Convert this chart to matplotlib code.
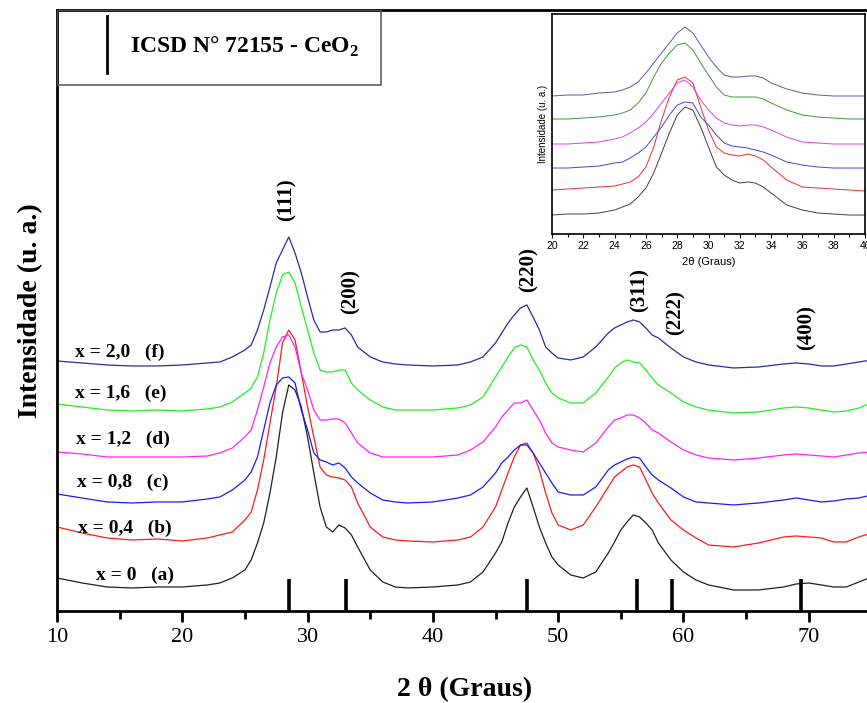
import matplotlib
matplotlib.use("Agg")
import matplotlib.pyplot as plt
from matplotlib.patches import Rectangle
from matplotlib.ticker import MultipleLocator

plt.rcParams['font.family'] = ['Liberation Serif', 'DejaVu Serif']
plt.rcParams['mathtext.fontset'] = 'custom'
plt.rcParams['mathtext.rm'] = 'Liberation Serif:bold'
plt.rcParams['mathtext.bf'] = 'Liberation Serif:bold'

# main patterns (2theta grid, intensities in arbitrary units)
tt = [10, 12, 14, 16, 18, 20, 22,
      23, 24, 25, 25.5, 26, 26.5, 27, 27.5, 28, 28.5,
      29, 29.5, 30, 30.5, 31, 31.5, 32, 32.5, 33, 33.5, 34,
      35, 36, 37, 38, 40, 42, 43, 44, 45,
      45.5, 46, 46.5, 47, 47.5, 48, 48.5, 49, 49.5, 50,
      51, 52, 53, 54, 54.5, 55, 55.5, 56, 56.5, 57,
      57.5, 58, 59, 60, 61, 62, 64, 66, 68, 69,
      70, 71, 72, 73, 74, 75]

int_a = [33, 28, 24, 23, 24, 24, 26,
         28, 33, 41, 51, 68, 88, 118, 154, 198, 226,
         221, 204, 174, 138, 104, 84, 79, 86, 83, 76, 64,
         41, 29, 24, 23, 24, 26, 29, 39, 58,
         69, 88, 104, 114, 123, 104, 84, 68, 54, 46,
         36, 33, 39, 58, 69, 81, 89, 96, 94, 88,
         81, 68, 51, 39, 31, 26, 21, 21, 24, 27,
         28, 26, 24, 24, 29, 34]
int_b = [84, 78, 73, 71, 72, 70, 73,
         76, 79, 91, 99, 121, 151, 188, 224, 268, 281,
         271, 238, 204, 174, 144, 136, 134, 133, 131, 124, 108,
         84, 74, 71, 70, 69, 71, 74, 84, 104,
         121, 138, 154, 166, 168, 158, 141, 118, 98, 86,
         81, 86, 104, 124, 134, 139, 144, 146, 144, 131,
         118, 108, 91, 81, 73, 66, 64, 68, 74, 75,
         74, 73, 69, 69, 74, 78]
int_c = [117, 113, 109, 108, 109, 109, 112,
         114, 121, 131, 139, 154, 181, 208, 226, 233, 234,
         228, 201, 181, 158, 151, 149, 146, 148, 143, 134, 128,
         118, 111, 109, 108, 109, 113, 116, 124, 138,
         148, 154, 161, 166, 166, 158, 148, 138, 128, 119,
         116, 116, 124, 141, 146, 149, 152, 154, 153, 144,
         136, 131, 123, 114, 109, 108, 106, 108, 111, 113,
         111, 109, 110, 112, 113, 116]
int_d = [159, 157, 154, 154, 154, 154, 155,
         158, 163, 174, 181, 201, 224, 248, 264, 274, 276,
         264, 238, 221, 201, 191, 191, 192, 192, 188, 178, 168,
         158, 154, 154, 154, 154, 156, 161, 169, 184,
         194, 201, 208, 208, 211, 201, 191, 178, 168, 164,
         161, 159, 168, 184, 191, 193, 196, 196, 193, 188,
         181, 178, 169, 161, 156, 153, 151, 153, 156, 157,
         156, 155, 154, 156, 158, 159]
int_e = [207, 204, 201, 200, 201, 200, 202,
         204, 209, 218, 223, 234, 258, 291, 318, 336, 339,
         328, 304, 281, 258, 241, 239, 239, 241, 241, 228, 221,
         211, 204, 201, 201, 201, 203, 206, 214, 234,
         244, 254, 263, 266, 264, 251, 241, 228, 218, 213,
         208, 208, 218, 234, 243, 248, 251, 249, 248, 241,
         233, 226, 218, 209, 204, 201, 198, 199, 203, 204,
         203, 201, 199, 200, 203, 208]
int_f = [250, 248, 246, 245, 245, 246, 248,
         249, 254, 261, 266, 281, 301, 324, 348, 361, 374,
         358, 338, 314, 291, 279, 279, 281, 281, 283, 276, 264,
         254, 249, 247, 246, 245, 246, 249, 254, 268,
         278, 288, 296, 303, 306, 294, 281, 264, 258, 253,
         251, 254, 264, 278, 283, 286, 289, 291, 289, 283,
         276, 273, 263, 254, 249, 246, 243, 244, 247, 248,
         247, 245, 245, 247, 249, 251]

labels = ['x = 0   (a)', 'x = 0,4   (b)', 'x = 0,8   (c)',
          'x = 1,2   (d)', 'x = 1,6   (e)', 'x = 2,0   (f)']
lab_x = [13.1, 11.7, 11.6, 11.5, 11.4, 11.4]
lab_y = [36, 83, 129, 172, 218, 259]
colors = ['#202020', '#ff1a1a', '#1a1aff', '#ff22ff', '#22ee22', '#2a2aa8']

# ICSD 72155 reference lines and hkl labels
ref_pos = [28.5, 33.1, 47.5, 56.3, 59.1, 69.4]
hkl = ['(111)', '(200)', '(220)', '(311)', '(222)', '(400)']
hkl_x = [28.3, 33.4, 47.65, 56.5, 59.4, 69.8]
hkl_y = [411, 319, 341, 321, 298, 283]

# inset (20-40 deg)
tt_in = [20, 21, 22, 23, 24, 24.5, 25, 25.5, 26, 26.5, 27, 27.5, 28, 28.5,
         29, 29.5, 30, 30.5, 31, 31.5, 32, 32.5, 33, 33.5, 34,
         35, 36, 37, 38, 39, 40]
in_a = [19, 20, 20, 21, 24, 27, 30, 37, 46, 61, 81, 101, 119, 127,
        124, 107, 87, 67, 59, 54, 51, 52, 51, 47, 41, 29, 24, 21, 20, 19, 19]
in_b = [44, 45, 46, 47, 48, 50, 52, 57, 67, 87, 114, 137, 154, 157,
        151, 127, 104, 87, 81, 79, 78, 80, 78, 74, 67, 54, 47, 46, 45, 44, 43]
in_c = [66, 66, 67, 68, 71, 72, 76, 81, 87, 97, 107, 119, 129, 132,
        131, 117, 109, 99, 91, 88, 87, 86, 84, 82, 79, 72, 69, 67, 66, 66, 66]
in_d = [90, 90, 91, 92, 95, 97, 101, 106, 112, 121, 131, 141, 151, 154,
        147, 134, 124, 116, 111, 109, 108, 109, 109, 107, 104, 97, 92, 91, 90, 90, 90]
in_e = [115, 115, 116, 117, 119, 121, 124, 131, 141, 157, 171, 181, 189, 191,
        184, 171, 159, 147, 139, 137, 137, 137, 137, 135, 131, 124, 119, 117, 116, 115, 115]
in_f = [138, 139, 139, 141, 142, 144, 147, 152, 161, 171, 181, 191, 201, 207,
        201, 189, 177, 167, 159, 157, 157, 158, 158, 156, 151, 145, 141, 139, 138, 138, 138]
in_colors = ['#404040', '#e83030', '#4646d0', '#e040e0', '#3c9c3c', '#5a5aaa']

fig = plt.figure(figsize=(8.67, 7.03), dpi=100)
ax = fig.add_axes([0.0657, 0.1309, 0.9394, 0.8549])

main = [int_a, int_b, int_c, int_d, int_e, int_f]
for y, c, lab, lx, ly in zip(main, colors, labels, lab_x, lab_y):
    ax.plot(tt, y, color=c, lw=0.9)
    ax.text(lx, ly, lab, fontsize=14, fontweight='bold', va='center', ha='left')

ax.vlines(ref_pos, 0, 32, color='k', lw=2.6)
for s, x, y in zip(hkl, hkl_x, hkl_y):
    ax.text(x, y, s, rotation=90, fontsize=15, fontweight='bold', ha='center', va='center')

ax.set_xlim(10, 75)
ax.set_ylim(0, 601)
ax.set_yticks([])
ax.xaxis.set_major_locator(MultipleLocator(10))
ax.xaxis.set_minor_locator(MultipleLocator(5))
ax.tick_params(axis='x', which='major', direction='out', length=8, width=2, labelsize=16, pad=4)
ax.tick_params(axis='x', which='minor', direction='out', length=6, width=2)
for sp in ax.spines.values():
    sp.set_linewidth(2)
ax.set_xlabel('2 θ (Graus)', fontsize=20, fontweight='bold', labelpad=22)
ax.set_ylabel('Intensidade (u. a.)', fontsize=20, fontweight='bold', labelpad=10)

# ICSD legend box
ax.add_patch(Rectangle((0, 0.875), 0.398, 0.125, transform=ax.transAxes,
                       fill=False, ec='#606060', lw=1.2, zorder=5))
ax.plot([0.0614, 0.0614], [0.895, 0.990], transform=ax.transAxes, color='k', lw=2)
ax.text(0.0896, 0.938, r'ICSD N° 72155 - CeO$_\mathbf{2}$', transform=ax.transAxes,
        fontsize=17, fontweight='bold', va='center', ha='left')

# inset
axin = fig.add_axes([0.6367, 0.6671, 0.361, 0.313])
for y, c in zip([in_a, in_b, in_c, in_d, in_e, in_f], in_colors):
    axin.plot(tt_in, y, color=c, lw=0.7)
axin.set_xlim(20, 40)
axin.set_ylim(0, 220)
axin.set_yticks([])
axin.xaxis.set_major_locator(MultipleLocator(2))
axin.xaxis.set_minor_locator(MultipleLocator(1))
axin.tick_params(axis='x', which='major', direction='out', length=3, width=0.8,
                 labelsize=7.5, pad=2)
axin.tick_params(axis='x', which='minor', direction='out', length=2, width=0.8)
for lbl in axin.get_xticklabels():
    lbl.set_family(['Liberation Sans', 'DejaVu Sans'])
for sp in axin.spines.values():
    sp.set_linewidth(1.2)
axin.set_xlabel('2θ (Graus)', fontsize=8, family=['Liberation Sans', 'DejaVu Sans'], labelpad=4)
axin.set_ylabel('Intensidade (u. a.)', fontsize=7, family=['Liberation Sans', 'DejaVu Sans'], labelpad=3)

fig.savefig('out.png', dpi=100)
